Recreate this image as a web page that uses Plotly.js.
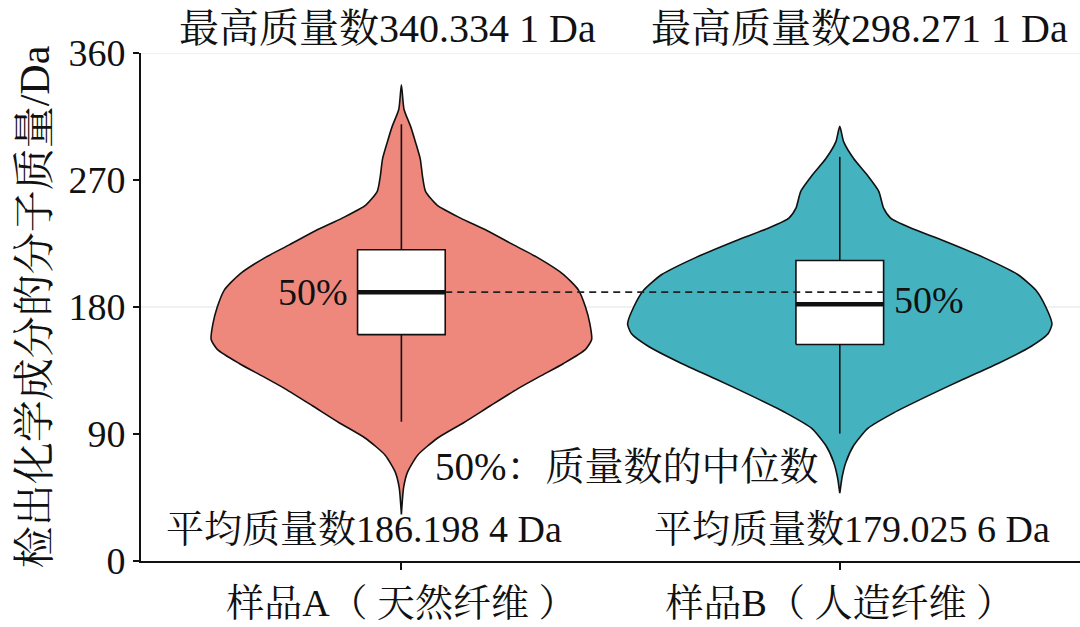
<!DOCTYPE html>
<html>
<head>
<meta charset="utf-8">
<script src="https://cdn.plot.ly/plotly-3.0.1.min.js"></script>
<style>
  body { margin: 0; background: #fff; }
  #chart { width: 1080px; height: 627px; }
</style>
</head>
<body>
<div id="chart"></div>
<script>
// sample names and their x positions
var sampleNames = ['样品A（ 天然纤维 ）', '样品B（ 人造纤维 ）'];
var samplePos = [0, 1];

// violin outlines: y level and half width (x units)
var violinAY = [337.5, 320, 308, 297, 285, 273, 262, 252, 243, 234, 224, 215, 203, 192, 180, 168, 157, 150, 140, 131, 122, 110, 98, 87, 75, 63, 52, 33];
var violinAHalf = [0, 0.006, 0.021, 0.032, 0.043, 0.048, 0.055, 0.082, 0.135, 0.196, 0.256, 0.311, 0.37, 0.404, 0.42, 0.43, 0.434, 0.42, 0.37, 0.317, 0.265, 0.203, 0.142, 0.082, 0.037, 0.014, 0.005, 0];
var violinBY = [308, 297, 285, 273, 262, 250, 243, 236, 227, 215, 203, 192, 180, 168, 161, 152, 140, 129, 117, 105, 94, 82, 70, 59, 48];
var violinBHalf = [0, 0.009, 0.032, 0.064, 0.089, 0.1, 0.116, 0.162, 0.237, 0.329, 0.406, 0.447, 0.47, 0.484, 0.475, 0.436, 0.361, 0.283, 0.201, 0.123, 0.064, 0.032, 0.014, 0.005, 0];

// box plot stats
var q1 = [160.4, 153.4];
var medians = [190.5, 182];
var q3 = [220.6, 212.9];
var lowerWhisker = [98.7, 90.3];
var upperWhisker = [309.5, 286.4];

var maxLabels = ['最高质量数340.334 1 Da', '最高质量数298.271 1 Da'];
var meanLabels = ['平均质量数186.198 4 Da', '平均质量数179.025 6 Da'];
var yTicks = [0, 90, 180, 270, 360];
var gridVals = [180, 360];

var colors = ['#EF887C', '#45B3BF'];
var boxW = 0.2;
var FONT = '"Liberation Serif", "Times New Roman", "Noto Serif CJK SC", "Noto Sans CJK SC", serif';

function outline(center, ys, half) {
  var xs = [], yy = [];
  for (var i = 0; i < ys.length; i++) { xs.push(center + half[i]); yy.push(ys[i]); }
  for (var j = ys.length - 1; j >= 0; j--) { xs.push(center - half[j]); yy.push(ys[j]); }
  return {x: xs, y: yy};
}

var traces = [];
[outline(samplePos[0], violinAY, violinAHalf), outline(samplePos[1], violinBY, violinBHalf)].forEach(function(o, i) {
  traces.push({
    type: 'scatter', mode: 'lines', x: o.x, y: o.y,
    fill: 'toself', fillcolor: colors[i],
    line: {color: '#111', width: 1.6, shape: 'spline', smoothing: 0.6}
  });
});

// boxes drawn as scatter so they sit above the filled violins
for (var i = 0; i < 2; i++) {
  var c = samplePos[i], l = c - boxW / 2, r = c + boxW / 2;
  traces.push({
    type: 'scatter', mode: 'lines',
    x: [c, c, null, c, c],
    y: [q3[i], upperWhisker[i], null, q1[i], lowerWhisker[i]],
    line: {color: '#111', width: 1.6}
  });
  traces.push({
    type: 'scatter', mode: 'lines',
    x: [l, r, r, l, l], y: [q1[i], q1[i], q3[i], q3[i], q1[i]],
    fill: 'toself', fillcolor: '#fff',
    line: {color: '#111', width: 1.6}
  });
  traces.push({
    type: 'scatter', mode: 'lines',
    x: [l, r], y: [medians[i], medians[i]],
    line: {color: '#111', width: 4.5}
  });
}

// dashed guide from A's median across to B's box
traces.push({
  type: 'scatter', mode: 'lines',
  x: [samplePos[0] + boxW / 2, samplePos[1] + boxW / 2],
  y: [medians[0], medians[0]],
  line: {color: '#222', width: 1.8, dash: '7px,5px'}
});

function txtFont(size) { return {family: FONT, size: size, color: '#111'}; }

var annotations = [];
var topX = [0.263, 0.765];
var botX = [0.2375, 0.757];
for (var k = 0; k < 2; k++) {
  annotations.push({xref: 'paper', yref: 'paper', x: topX[k], y: 1.049, text: maxLabels[k],
    xanchor: 'center', yanchor: 'middle', showarrow: false, font: txtFont(40)});
  annotations.push({xref: 'paper', yref: 'paper', x: botX[k], y: 0.063, text: meanLabels[k],
    xanchor: 'center', yanchor: 'middle', showarrow: false, font: txtFont(38)});
}
annotations.push({xref: 'x', yref: 'y', x: samplePos[0] - boxW / 2, y: medians[0], text: '50%',
  xanchor: 'right', yanchor: 'middle', xshift: -8, showarrow: false, font: txtFont(38)});
annotations.push({xref: 'x', yref: 'y', x: samplePos[1] + boxW / 2, y: medians[1], text: '50%',
  xanchor: 'left', yanchor: 'middle', xshift: 8, yshift: 4, showarrow: false, font: txtFont(38)});
annotations.push({xref: 'paper', yref: 'paper', x: 0.5176, y: 0.186, text: '50%：质量数的中位数',
  xanchor: 'center', yanchor: 'middle', showarrow: false, font: txtFont(39)});

var layout = {
  width: 1080, height: 627,
  margin: {l: 141, r: 0, t: 53, b: 66},
  paper_bgcolor: '#fff', plot_bgcolor: '#fff',
  font: {family: FONT, color: '#111', size: 38},
  showlegend: false, hovermode: false,
  xaxis: {
    range: [-0.594, 1.548], tickvals: samplePos, ticktext: sampleNames,
    showline: true, linecolor: '#111', linewidth: 2, ticks: 'outside', ticklen: 7,
    tickwidth: 2, tickcolor: '#111', showgrid: false, zeroline: false,
    tickfont: txtFont(38)
  },
  yaxis: {
    range: [0, 360], tickvals: yTicks,
    showline: true, linecolor: '#111', linewidth: 2, ticks: 'outside', ticklen: 6,
    tickwidth: 2, tickcolor: '#111', showgrid: false, zeroline: false,
    tickfont: txtFont(38),
    title: {text: '检出化学成分的分子质量/Da', font: txtFont(42), standoff: 6}
  },
  shapes: gridVals.map(function(v) {
    return {type: 'line', xref: 'paper', yref: 'y', x0: 0, x1: 1, y0: v, y1: v,
      layer: 'below', line: {color: '#e4e4e4', width: 1.2}};
  }),
  annotations: annotations
};

Plotly.newPlot('chart', traces, layout, {displayModeBar: false, staticPlot: true});
</script>
</body>
</html>
